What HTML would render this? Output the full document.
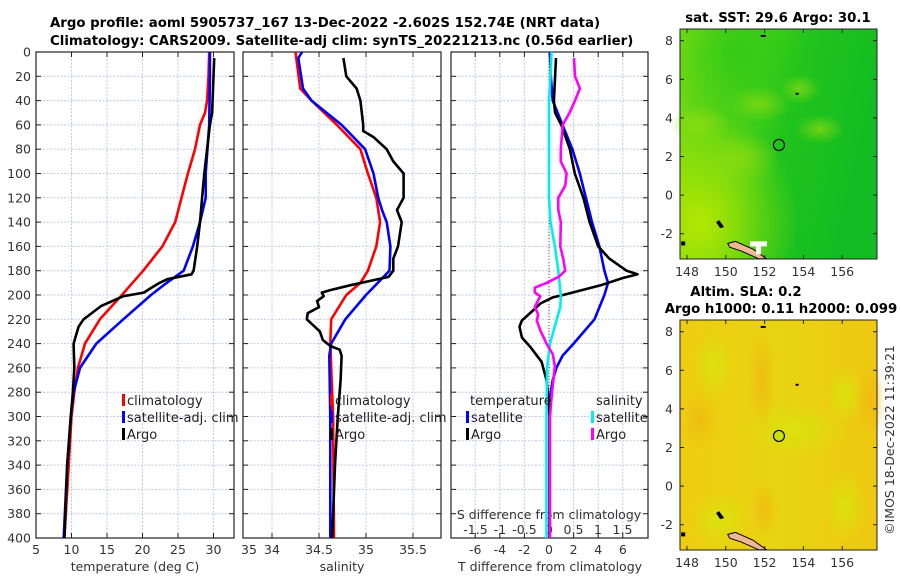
<!DOCTYPE html>
<html><head><meta charset="utf-8"><style>
body{margin:0;background:#fff;}
svg{display:block;font-family:"DejaVu Sans","Liberation Sans",sans-serif;}
.tk{font-size:12.5px;fill:#333;}
.tt{font-size:13.3px;font-weight:bold;fill:#000;}
.lg{font-size:13px;fill:#222;}
</style></head><body>
<svg id="fig" width="900" height="580" viewBox="0 0 900 580">
<defs>
<linearGradient id="sstg" x1="0" y1="0" x2="1" y2="0.3">
<stop offset="0" stop-color="#7cdc12"/><stop offset="0.4" stop-color="#4ed018"/><stop offset="0.6" stop-color="#22c41c"/><stop offset="1" stop-color="#12bc22"/></linearGradient>
<radialGradient id="sstl" cx="0.1" cy="0.85" r="0.5"><stop offset="0" stop-color="#b8e800" stop-opacity="0.95"/><stop offset="1" stop-color="#b8e800" stop-opacity="0"/></radialGradient>
<radialGradient id="ssth" cx="0.3" cy="0.1" r="0.4"><stop offset="0" stop-color="#28c818" stop-opacity="0.8"/><stop offset="1" stop-color="#28c818" stop-opacity="0"/></radialGradient>
<radialGradient id="sstm" cx="0.5" cy="0.5" r="0.5"><stop offset="0" stop-color="#90dc10" stop-opacity="0.7"/><stop offset="1" stop-color="#90dc10" stop-opacity="0"/></radialGradient>
<linearGradient id="slag" x1="0" y1="0" x2="1" y2="0"><stop offset="0" stop-color="#eecc10"/><stop offset="0.5" stop-color="#e8d412"/><stop offset="1" stop-color="#eec812"/></linearGradient>
<radialGradient id="slay" cx="0.5" cy="0.5" r="0.5"><stop offset="0" stop-color="#d8e40c" stop-opacity="0.9"/><stop offset="1" stop-color="#d8e40c" stop-opacity="0"/></radialGradient>
<radialGradient id="slao" cx="0.5" cy="0.5" r="0.5"><stop offset="0" stop-color="#f0b810" stop-opacity="0.8"/><stop offset="1" stop-color="#f0b810" stop-opacity="0"/></radialGradient>
</defs>
<text class="tt" x="50" y="27">Argo profile: aoml 5905737_167 13-Dec-2022 -2.602S 152.74E (NRT data)</text>
<text class="tt" x="50" y="45">Climatology: CARS2009. Satellite-adj clim: synTS_20221213.nc (0.56d earlier)</text>
<g id="panels"></g>
<g id="maps"></g>
<text class="tk" transform="translate(894,440) rotate(-90)" text-anchor="middle">©IMOS 18-Dec-2022 11:39:21</text>
</svg>
<script>
// ---- data ----
const depthTicks=[0,20,40,60,80,100,120,140,160,180,200,220,240,260,280,300,320,340,360,380,400];
const tTicks=[5,10,15,20,25,30,35];
const sTicks=[34,34.5,35,35.5];
const dtTicks=[-6,-4,-2,0,2,4,6];
const dsTicks=[-1.5,-1,-0.5,0,0.5,1,1.5];
const tClimD=[0,20,40,50,60,80,100,120,140,160,180,200,220,240,260,280,300,340,400];
const tClimV=[29.4,29.3,29.1,28.8,28.1,27.4,26.4,25.5,24.6,22.8,20.1,17.1,14.0,11.9,10.9,10.4,10.0,9.6,9.0];
const tSatD=[0,20,60,100,120,140,160,180,190,200,220,240,260,280,300,340,400];
const tSatV=[29.5,29.5,29.4,28.9,28.9,28.1,27.1,25.8,23.4,21.2,17.3,13.5,11.2,10.3,9.9,9.4,8.9];
const tArgoD=[5,20,50,60,100,120,140,160,180,183,187,190,195,198,201,209,220,226,240,260,280,300,340,400];
const tArgoV=[30.1,30.0,29.8,29.5,28.7,28.4,28.1,27.7,27.2,26.9,23.5,22.4,21.0,20.2,17.3,14.2,11.7,11.0,10.3,10.4,10.2,9.9,9.4,9.0];
const sClimD=[0,30,40,60,80,100,120,140,160,180,190,200,220,240,260,300,400];
const sClimV=[34.25,34.30,34.42,34.69,34.94,35.02,35.11,35.15,35.11,35.02,34.94,34.79,34.63,34.62,34.63,34.65,34.66];
const sSatD=[0,5,20,30,40,60,80,100,120,130,140,160,180,200,220,240,250,300,400];
const sSatV=[34.32,34.28,34.31,34.33,34.42,34.74,34.99,35.08,35.13,35.17,35.22,35.26,35.25,35.0,34.78,34.63,34.61,34.62,34.62];
const sArgoD=[5,20,30,40,60,65,70,80,90,100,120,130,140,160,170,180,185,188,192,196,198,201,205,210,215,220,225,230,237,242,245,250,270,300,340,400];
const sArgoV=[34.76,34.79,34.90,34.94,34.97,34.97,35.08,35.22,35.29,35.40,35.40,35.33,35.38,35.34,35.29,35.29,35.24,35.07,34.83,34.62,34.53,34.55,34.48,34.50,34.38,34.37,34.44,34.51,34.54,34.62,34.72,34.74,34.73,34.70,34.67,34.64];
const dtArgoD=[5,20,40,50,60,80,100,120,140,160,170,180,183,186,192,200,202,207,210,221,226,235,243,255,270,280,300,400];
const dtArgoV=[0.57,0.5,0.4,0.5,1.0,1.7,2.1,2.8,3.3,4.0,4.9,6.3,7.2,6.0,4.2,1.15,0.3,-0.7,-1.0,-2.2,-2.4,-2.2,-1.5,-0.6,-0.2,-0.1,0.05,0.05];
const dtSatD=[0,20,40,60,80,100,120,140,160,180,190,200,220,240,250,260,270,280,300,400];
const dtSatV=[0.1,0.15,0.3,1.1,1.9,2.5,3.0,3.5,4.1,4.5,4.8,4.5,3.7,2.0,1.1,0.6,0.3,0.15,0.05,0.05];
const dsSatD=[0,20,40,60,100,120,140,160,180,200,210,220,240,260,300,400];
const dsSatV=[0.05,0.03,0,0,0,0,0.03,0.12,0.19,0.24,0.23,0.16,0.02,-0.04,-0.05,-0.05];
const dsArgoD=[5,20,30,40,50,60,80,90,100,110,120,130,140,160,170,180,185,190,194,198,201,210,216,221,229,240,249,259,281,300,400];
const dsArgoV=[0.51,0.53,0.63,0.53,0.42,0.28,0.24,0.24,0.36,0.33,0.19,0.19,0.24,0.23,0.29,0.33,0.2,-0.05,-0.29,-0.29,-0.18,-0.29,-0.22,-0.25,-0.18,-0.05,0.08,0.12,0.06,0.02,0.02];
const lonTicks=[148,150,152,154,156];
const latTicks=[-2,0,2,4,6,8];
const argoLon=152.74, argoLat=2.6;

// ---- scales ----
const NS='http://www.w3.org/2000/svg';
const Y=d=>52+d*1.215;
const XT=t=>36+(t-5)*7.1;
const XS=s=>272+(s-34)*94;
const XDT=v=>549+v*12.3;
const XDS=v=>549+v*49;
const P=[{x0:36,x1:234},{x0:243,x1:441},{x0:451,x1:648}];
const panels=document.getElementById('panels');
function mk(tag,attrs,parent){const e=document.createElementNS(NS,tag);for(const k in attrs)e.setAttribute(k,attrs[k]);(parent||panels).appendChild(e);return e;}
function txt(s,x,y,cls,anchor,parent){const e=mk('text',{x:x,y:y,class:cls,'text-anchor':anchor||'start'},parent);e.textContent=s;return e;}

P.forEach((p,i)=>{
  const g=mk('g',{});
  
  
  mk('rect',{x:p.x0,y:52,width:p.x1-p.x0,height:486,fill:'#fff'},g);
  depthTicks.forEach(d=>{
    const l=mk('line',{x1:p.x0,x2:p.x1,y1:Y(d),y2:Y(d),stroke:'#c4c8e4','stroke-dasharray':'2,1.5','stroke-width':1},g);
    
    
    mk('line',{x1:p.x0,x2:p.x0+5,y1:Y(d),y2:Y(d),stroke:'#222'},g);
    mk('line',{x1:p.x1-5,x2:p.x1,y1:Y(d),y2:Y(d),stroke:'#222'},g);
  });
  const xt=i==0?tTicks.map(XT):i==1?sTicks.map(XS):dtTicks.map(XDT);
  xt.forEach(x=>{ if(x>p.x0&&x<p.x1){
    const l=mk('line',{x1:x,x2:x,y1:52,y2:538,stroke:'#c4c8e4','stroke-dasharray':'2,1.5'},g);
    
    
    mk('line',{x1:x,x2:x,y1:538,y2:533,stroke:'#222'},g);
    mk('line',{x1:x,x2:x,y1:52,y2:57,stroke:'#222'},g);}});
  const b=mk('rect',{x:p.x0,y:52,width:p.x1-p.x0,height:486,fill:'none',stroke:'#222','stroke-width':1.2},g);
  
  
});
depthTicks.forEach(d=>{const t=txt(String(d),31,Y(d)+4.5,'tk','end');
  
  });
tTicks.forEach(v=>{const t=txt(String(v),XT(v),554,'tk','middle');
  
  });
sTicks.forEach(v=>{const t=txt(String(v),XS(v),554,'tk','middle');
  
  });
dtTicks.forEach(v=>{const t=txt(String(v),XDT(v),554,'tk','middle');
  
  });
dsTicks.forEach(v=>{const t=txt(String(v),XDS(v),534,'tk','middle');
  
  });
let a=txt('temperature (deg C)',135,571,'tk','middle');


a=txt('salinity',342,571,'tk','middle');


a=txt('T difference from climatology',550,571,'tk','middle');


a=txt('S difference from climatology',549,519,'tk','middle');


a=mk('line',{x1:549,x2:549,y1:52,y2:538,stroke:'#555','stroke-dasharray':'1,2'});



function line(D,V,X,color,name){
  const d=D.map((dd,k)=>(k?'L':'M')+X(V[k]).toFixed(1)+','+Y(dd).toFixed(1)).join('');
  const e=mk('path',{d:d,fill:'none',stroke:color,'stroke-width':2.6,'stroke-linejoin':'round'});
  
  
}
line(tClimD,tClimV,XT,'#f00','temperature-climatology-line');
line(tSatD,tSatV,XT,'#00f','temperature-satellite-line');
line(tArgoD,tArgoV,XT,'#000','temperature-argo-line');
line(sClimD,sClimV,XS,'#f00','salinity-climatology-line');
line(sSatD,sSatV,XS,'#00f','salinity-satellite-line');
line(sArgoD,sArgoV,XS,'#000','salinity-argo-line');
line(dtSatD,dtSatV,XDT,'#00f','t-diff-satellite-line');
line(dtArgoD,dtArgoV,XDT,'#000','t-diff-argo-line');
line(dsSatD,dsSatV,XDS,'#0ee','s-diff-satellite-line');
line(dsArgoD,dsArgoV,XDS,'#f0f','s-diff-argo-line');

function legend(x,y,label,color,name){
  const g=mk('g',{});
  
  
  mk('rect',{x:x,y:y-11,width:3,height:12,fill:color},g);
  txt(label,x+5,y,'lg','start',g);
}
legend(122,405,'climatology','#f00','legend-climatology');
legend(122,422,'satellite-adj. clim','#00f','legend-satellite-adj');
legend(122,439,'Argo','#000','legend-argo');
legend(330,405,'climatology','#f00','legend2-climatology');
legend(330,422,'satellite-adj. clim','#00f','legend2-satellite-adj');
legend(330,439,'Argo','#000','legend2-argo');
a=txt('temperature',470,405,'lg','start');


a=txt('salinity',596,405,'lg','start');


legend(466,422,'satellite','#00f','legend-t-satellite');
legend(466,439,'Argo','#000','legend-t-argo');
legend(591,422,'satellite','#0ee','legend-s-satellite');
legend(591,439,'Argo','#f0f','legend-s-argo');

// ---- maps ----
const maps=document.getElementById('maps');
const MX=l=>687+(l-148)*19.4;
function drawMap(y0,kind,name){
  const MY=la=>y0+11.7+(8-la)*19.3;
  const g=mk('g',{},maps);
  
  
  const W=197,H=230;
  if(kind==='sst'){
    mk('rect',{x:680,y:y0,width:W,height:H,fill:'url(#sstg)'},g);
    mk('rect',{x:680,y:y0,width:W,height:H,fill:'url(#sstl)'},g);
    mk('rect',{x:680,y:y0,width:W,height:H,fill:'url(#ssth)'},g);
    [[700,y0+95,30,20],[740,y0+130,40,25],[760,y0+75,30,18],[820,y0+100,25,15],[800,y0+60,20,15]].forEach(c=>mk('ellipse',{cx:c[0],cy:c[1],rx:c[2],ry:c[3],fill:'url(#sstm)'},g));
  } else {
    mk('rect',{x:680,y:y0,width:W,height:H,fill:'url(#slag)'},g);
    [[714,y0+45,22,38],[845,y0+75,20,28],[795,y0+110,50,30],[845,y0+185,22,35],[720,y0+200,30,30]].forEach(c=>mk('ellipse',{cx:c[0],cy:c[1],rx:c[2],ry:c[3],fill:'url(#slay)'},g));
    [[762,y0+60,14,55],[700,y0+100,18,30],[870,y0+80,15,40],[764,y0+190,14,30]].forEach(c=>mk('ellipse',{cx:c[0],cy:c[1],rx:c[2],ry:c[3],fill:'url(#slao)'},g));
  }
  mk('path',{d:`M${MX(150.1)},${MY(-2.5)} L${MX(150.5)},${MY(-2.4)} L${MX(151.4)},${MY(-2.8)} L${MX(152.1)},${MY(-3.3)} L${MX(151.7)},${MY(-3.3)} L${MX(150.8)},${MY(-2.9)} L${MX(150.2)},${MY(-2.7)} Z`,fill:'#f0b890',stroke:'#000','stroke-width':1},g);
  mk('path',{d:`M${MX(149.5)},${MY(-1.4)} l3,-2 l3,4 l2,3 l-4,1 Z`,fill:'#000'},g);
  mk('rect',{x:MX(147.7),y:MY(-2.4),width:4,height:4,fill:'#000'},g);
  if(kind==='sst'){mk('path',{d:`M${MX(151.25)},${MY(-2.4)} h17 v5 h-6 v8 h-5 v-8 h-6 Z`,fill:'#fff'},g);}
  mk('rect',{x:MX(151.8),y:MY(8.3),width:5,height:2,fill:'#000'},g);
  mk('rect',{x:MX(153.6),y:MY(5.3),width:3,height:2,fill:'#000'},g);
  mk('circle',{cx:MX(argoLon),cy:MY(argoLat),r:5.5,fill:kind==='sst'?'none':'#c8e010',stroke:'#000','stroke-width':1.2},g);
  mk('rect',{x:680,y:y0,width:W,height:H,fill:'none',stroke:'#222','stroke-width':1},g);
  lonTicks.forEach(l=>{mk('line',{x1:MX(l),x2:MX(l),y1:y0+H,y2:y0+H-4,stroke:'#222'},g);
    mk('line',{x1:MX(l),x2:MX(l),y1:y0,y2:y0+4,stroke:'#222'},g);
    const t=txt(String(l),MX(l),y0+H+17,'tk','middle',g);
    
    });
  latTicks.forEach(l=>{mk('line',{x1:680,x2:684,y1:MY(l),y2:MY(l),stroke:'#222'},g);
    mk('line',{x1:873,x2:877,y1:MY(l),y2:MY(l),stroke:'#222'},g);
    const t=txt(String(l),673,MY(l)+4.5,'tk','end',g);
    
    });
}
drawMap(29,'sst','sst-map');
drawMap(320,'sla','sla-map');
a=txt('sat. SST: 29.6 Argo: 30.1',778,22,'tt','middle',maps);


a=txt('Altim. SLA: 0.2',746,296,'tt','middle',maps);


a=txt('Argo h1000: 0.11 h2000: 0.099',781,313,'tt','middle',maps);


</script>
</body></html>
